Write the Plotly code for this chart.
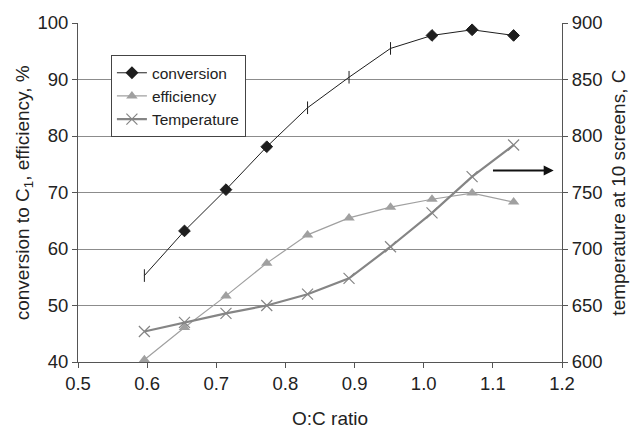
import plotly.graph_objects as go

oc_ratio = [0.596, 0.654, 0.714, 0.773, 0.832, 0.892, 0.952, 1.012, 1.070, 1.130]
conversion = [55.3, 63.2, 70.5, 78.1, 85.0, 90.4, 95.5, 97.8, 98.8, 97.8]
efficiency = [40.4, 46.1, 51.7, 57.5, 62.5, 65.5, 67.4, 68.8, 69.9, 68.3]
temperature = [627, 635, 643, 650, 660, 674, 702, 732, 764, 792]
conv_symbols = ["line-ns", "diamond", "diamond", "diamond", "line-ns",
                "line-ns", "line-ns", "diamond", "diamond", "diamond"]
x_ticks = [0.5, 0.6, 0.7, 0.8, 0.9, 1.0, 1.1, 1.2]
y_ticks = [40, 50, 60, 70, 80, 90, 100]
y2_ticks = [600, 650, 700, 750, 800, 850, 900]

FONT = "Liberation Sans, Arial, sans-serif"
C_CONV = "#1e1e1e"
C_EFF = "#a0a0a0"
C_TEMP = "#858585"
TICK = 18.5
TITLE = 19

fig = go.Figure()

# legend-only entry (the data trace has mixed symbols)
fig.add_trace(go.Scatter(x=[None], y=[None], name="conversion", mode="lines+markers",
                         line=dict(color=C_CONV, width=1),
                         marker=dict(symbol="diamond", size=10, color=C_CONV)))
fig.add_trace(go.Scatter(x=oc_ratio, y=conversion, name="conversion", mode="lines+markers",
                         showlegend=False,
                         line=dict(color=C_CONV, width=1),
                         marker=dict(symbol=conv_symbols, size=9, color=C_CONV,
                                     line=dict(color=C_CONV, width=1))))
fig.add_trace(go.Scatter(x=oc_ratio, y=efficiency, name="efficiency", mode="lines+markers",
                         line=dict(color=C_EFF, width=1.2),
                         marker=dict(symbol="triangle-up", size=10, color=C_EFF)))
fig.add_trace(go.Scatter(x=oc_ratio, y=temperature, name="Temperature", mode="lines+markers",
                         yaxis="y2",
                         line=dict(color=C_TEMP, width=2.2),
                         marker=dict(symbol="x-thin", size=11, color=C_TEMP,
                                     line=dict(color=C_TEMP, width=1.2))))

fig.add_annotation(x=1.188, y=73.9, ax=1.098, ay=73.9, xref="x", yref="y",
                   axref="x", ayref="y", showarrow=True, arrowhead=2,
                   arrowsize=1, arrowwidth=2, arrowcolor="#111", text="")

# axis titles as annotations for exact placement
fig.add_annotation(x=-0.112, y=0.5, xref="paper", yref="paper", showarrow=False,
                   text="conversion to C<sub>1</sub>, efficiency, %", textangle=-90,
                   font=dict(size=TITLE), xanchor="center", yanchor="middle")
fig.add_annotation(x=1.116, y=0.5, xref="paper", yref="paper", showarrow=False,
                   text="temperature at 10 screens, C", textangle=-90,
                   font=dict(size=TITLE), xanchor="center", yanchor="middle")
fig.add_annotation(x=0.52, y=-0.167, xref="paper", yref="paper", showarrow=False,
                   text="O:C ratio", font=dict(size=TITLE),
                   xanchor="center", yanchor="middle")

fig.update_layout(
    width=631, height=429,
    margin=dict(l=78, r=69, t=23, b=67),
    paper_bgcolor="white", plot_bgcolor="white",
    font=dict(family=FONT, size=TICK, color="#222"),
    showlegend=True,
    legend=dict(x=0.068, y=0.905, xanchor="left", yanchor="top",
                bgcolor="white", bordercolor="#444", borderwidth=1,
                font=dict(size=15.5, family=FONT), tracegroupgap=0,
                itemwidth=30),
    xaxis=dict(range=[0.5, 1.2], tickvals=x_ticks, automargin=False,
               tickformat=".1f", showgrid=False, zeroline=False,
               showline=True, linecolor="#555", linewidth=1,
               ticks="outside", ticklen=5, tickcolor="#555",
               tickfont=dict(size=TICK)),
    yaxis=dict(range=[40, 100], tickvals=y_ticks, automargin=False,
               showgrid=True, gridcolor="#8c8c8c", gridwidth=1, zeroline=False,
               showline=True, linecolor="#555", linewidth=1,
               ticks="outside", ticklen=5, tickcolor="#555",
               tickfont=dict(size=TICK)),
    yaxis2=dict(range=[600, 900], tickvals=y2_ticks, automargin=False,
                overlaying="y", side="right", showgrid=False, zeroline=False,
                showline=True, linecolor="#555", linewidth=1,
                ticks="outside", ticklen=5, tickcolor="#555",
                tickfont=dict(size=TICK)),
)

fig.write_html("out.html", config={"displayModeBar": False},
               post_script="document.body.style.margin='0';")
